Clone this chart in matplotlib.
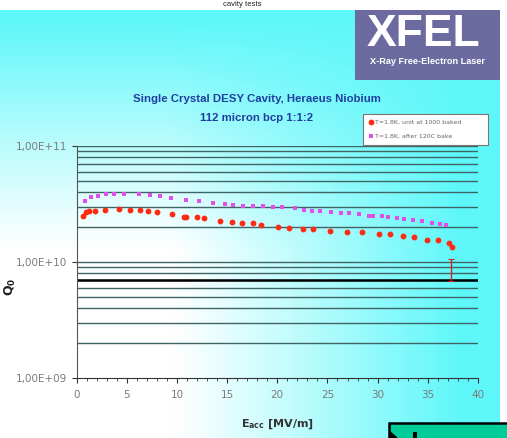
import numpy as np
import matplotlib
matplotlib.use("Agg")
import matplotlib.pyplot as plt
from matplotlib.patches import Rectangle, Polygon
from matplotlib.ticker import FixedLocator, MultipleLocator, NullFormatter

# ---- measurement data ----
# Q0 vs Eacc, first test (red)
e_test1 = [0.6, 0.95, 1.2, 1.8, 2.8, 4.2, 5.3, 6.3, 7.1, 8.0, 9.5, 10.7, 10.9, 12.0,
           12.7, 14.3, 15.5, 16.5, 17.6, 18.4, 20.1, 21.2, 22.6, 23.6, 25.3, 26.9,
           28.4, 30.1, 31.2, 32.5, 33.6, 34.9, 36.0, 37.1, 37.4]
q_test1 = [2.49, 2.68, 2.74, 2.77, 2.81, 2.84, 2.81, 2.79, 2.74, 2.70, 2.58, 2.43,
           2.43, 2.43, 2.40, 2.27, 2.23, 2.18, 2.15, 2.08, 2.02, 1.98, 1.94, 1.91,
           1.85, 1.81, 1.81, 1.74, 1.73, 1.67, 1.65, 1.55, 1.55, 1.47, 1.34]  # x 1e10

# Q0 vs Eacc, second test (magenta)
e_test2 = [0.8, 1.4, 2.1, 2.9, 3.7, 4.7, 6.2, 7.3, 8.3, 9.4, 10.9, 12.2, 13.6, 14.8,
           15.6, 16.6, 17.6, 18.6, 19.6, 20.5, 21.8, 22.7, 23.5, 24.3, 25.4, 26.4,
           27.1, 28.1, 29.1, 29.5, 30.4, 31.0, 31.9, 32.6, 33.5, 34.4, 35.4, 36.2, 36.8]
q_test2 = [3.36, 3.61, 3.71, 3.83, 3.86, 3.86, 3.83, 3.78, 3.71, 3.56, 3.44, 3.38,
           3.23, 3.16, 3.12, 3.06, 3.04, 3.04, 3.00, 2.96, 2.90, 2.82, 2.74, 2.74,
           2.70, 2.66, 2.64, 2.58, 2.51, 2.49, 2.48, 2.43, 2.38, 2.36, 2.32, 2.25,
           2.18, 2.13, 2.07]  # x 1e10

# quench: Q0 drop at the highest field
e_quench = 37.3
q_quench = [1.06e10, 6.8e9]

# highlighted level
ref_level = 7e9

labels = ["T=1.8K, unit at 1000 baked", "T=1.8K, after 120C bake"]
title_lines = ["Single Crystal DESY Cavity, Heraeus Niobium", "112 micron bcp 1:1:2"]
x_ticks = [0, 5, 10, 15, 20, 25, 30, 35, 40]
y_ticks = [1e9, 1e10, 1e11]
y_ticklabels = ["1,00E+09", "1,00E+10", "1,00E+11"]

W, H = 507, 438
fig = plt.figure(figsize=(W / 100, H / 100), dpi=100)

# ---- slide background: white centre fading to cyan at top and right ----
bg = fig.add_axes([0, 0, 1, 1], zorder=-10)
yy, xx = np.mgrid[0:H, 0:W].astype(float)
cx = np.clip((xx - 170) / 290, 0, 1)
cy = np.clip((250 - yy) / 230, 0, 1)
c = 1 - (1 - cx) * (1 - cy)
c = c ** 1.1
cyan = np.array([0.37, 0.97, 0.98])
img = (1 - c)[..., None] * np.array([1.0, 1.0, 1.0]) + c[..., None] * cyan
img[:10, :, :] = 1.0
img[:, 500:, :] = 1.0
bg.imshow(img, extent=[0, W, H, 0], aspect="auto", interpolation="bilinear")
bg.set_xlim(0, W)
bg.set_ylim(H, 0)
bg.axis("off")

# logo block
bg.add_patch(Rectangle((355, 10), 145, 70, facecolor="#6b6b9f", edgecolor="none"))
bg.text(423, 34, "XFEL", color="white", fontsize=32, fontweight="bold",
        family="Liberation Sans", ha="center", va="center")
bg.text(428, 61, "X-Ray Free-Electron Laser", color="white", fontsize=6.6,
        fontweight="bold", family="Liberation Sans", ha="center", va="center")

# slide heading in the white strip above
bg.text(242, 5, "cavity tests", color="#222222", fontsize=5.5, ha="center",
        va="center", family="Liberation Sans")

# chart title
bg.text(257, 99, title_lines[0], color="#1f3fa0", fontsize=8.2, ha="center",
        va="center", family="Liberation Sans", fontweight="bold")
bg.text(257, 118, title_lines[1], color="#1f3fa0", fontsize=8.2, ha="center",
        va="center", family="Liberation Sans", fontweight="bold")

# green button in the corner
bg.add_patch(Rectangle((389, 423), 125, 20, facecolor="#00cc99", edgecolor="black", lw=1.8))
bg.add_patch(Polygon([[390, 431], [398, 438], [390, 438]], closed=True, facecolor="black"))
bg.add_patch(Rectangle((413, 432), 4, 6, facecolor="black"))

# ---- data axes ----
ax = fig.add_axes([76.5 / W, 1 - 378 / H, (478 - 76.5) / W, (378 - 146) / H])
ax.set_facecolor("none")
ax.set_yscale("log")
ax.set_xlim(0, 40)
ax.set_ylim(1e9, 1e11)

grid_color = "#3f6464"
for dec in [1e9, 1e10]:
    for m in range(2, 10):
        ax.axhline(m * dec, color=grid_color, lw=1.0, zorder=1)
ax.axhline(1e10, color=grid_color, lw=1.0, zorder=1)
ax.axhline(1e11, color=grid_color, lw=1.0, zorder=1)
ax.axhline(ref_level, color="black", lw=1.8, zorder=1)

ax.plot(e_test1, np.array(q_test1) * 1e10, linestyle="none", marker="o",
        markersize=4.2, color="#ff2a14", markeredgewidth=0, zorder=3, label=labels[0])
ax.plot(e_test2, np.array(q_test2) * 1e10, linestyle="none", marker="s",
        markersize=3.3, color="#e24ee8", markeredgewidth=0, zorder=3, label=labels[1])
ax.vlines(e_quench, q_quench[1], q_quench[0], color="#e02020", lw=1.0, zorder=3)
ax.hlines(q_quench, e_quench - 0.3, e_quench + 0.3, color="#e02020", lw=0.8, zorder=3)

for s in ["top", "right"]:
    ax.spines[s].set_visible(False)
ax.spines["left"].set_color("#555555")
ax.spines["bottom"].set_color("#333333")

ax.yaxis.set_major_locator(FixedLocator(y_ticks))
ax.set_yticklabels(y_ticklabels)
ax.yaxis.set_minor_locator(FixedLocator([]))
ax.yaxis.set_minor_formatter(NullFormatter())
ax.set_xticks(x_ticks)
ax.xaxis.set_minor_locator(MultipleLocator(1))
ax.tick_params(axis="both", which="major", labelsize=7.5, labelcolor="#7a7a7a",
               color="#333333", length=3.5, width=0.8)
ax.tick_params(axis="x", which="minor", length=2, color="#333333", width=0.6)
ax.tick_params(axis="x", pad=5)
ax.tick_params(axis="y", pad=3)

ax.set_xlabel(r"$\mathbf{E_{acc}}$ [MV/m]", fontsize=8, fontweight="bold",
              color="#333333", labelpad=13)
fig.text(10 / W, 1 - 287 / H, r"$\mathbf{Q_0}$", fontsize=9, rotation=90,
         ha="center", va="center", color="#222222")

leg = ax.legend(loc="upper left", bbox_to_anchor=(363 / W, 1 - 147 / H, 125 / W, 33 / H),
                bbox_transform=fig.transFigure, mode="expand", fontsize=4.5,
                frameon=True, fancybox=False, borderpad=0.9, labelspacing=1.4,
                handlelength=0.6, handletextpad=0.4, borderaxespad=0)
leg.get_frame().set_facecolor("white")
leg.get_frame().set_edgecolor("#777777")
leg.get_frame().set_linewidth(0.8)
leg.get_frame().set_alpha(1)
leg.set_zorder(5)
for t in leg.get_texts():
    t.set_color("#666666")

fig.savefig("out.png", dpi=100)
